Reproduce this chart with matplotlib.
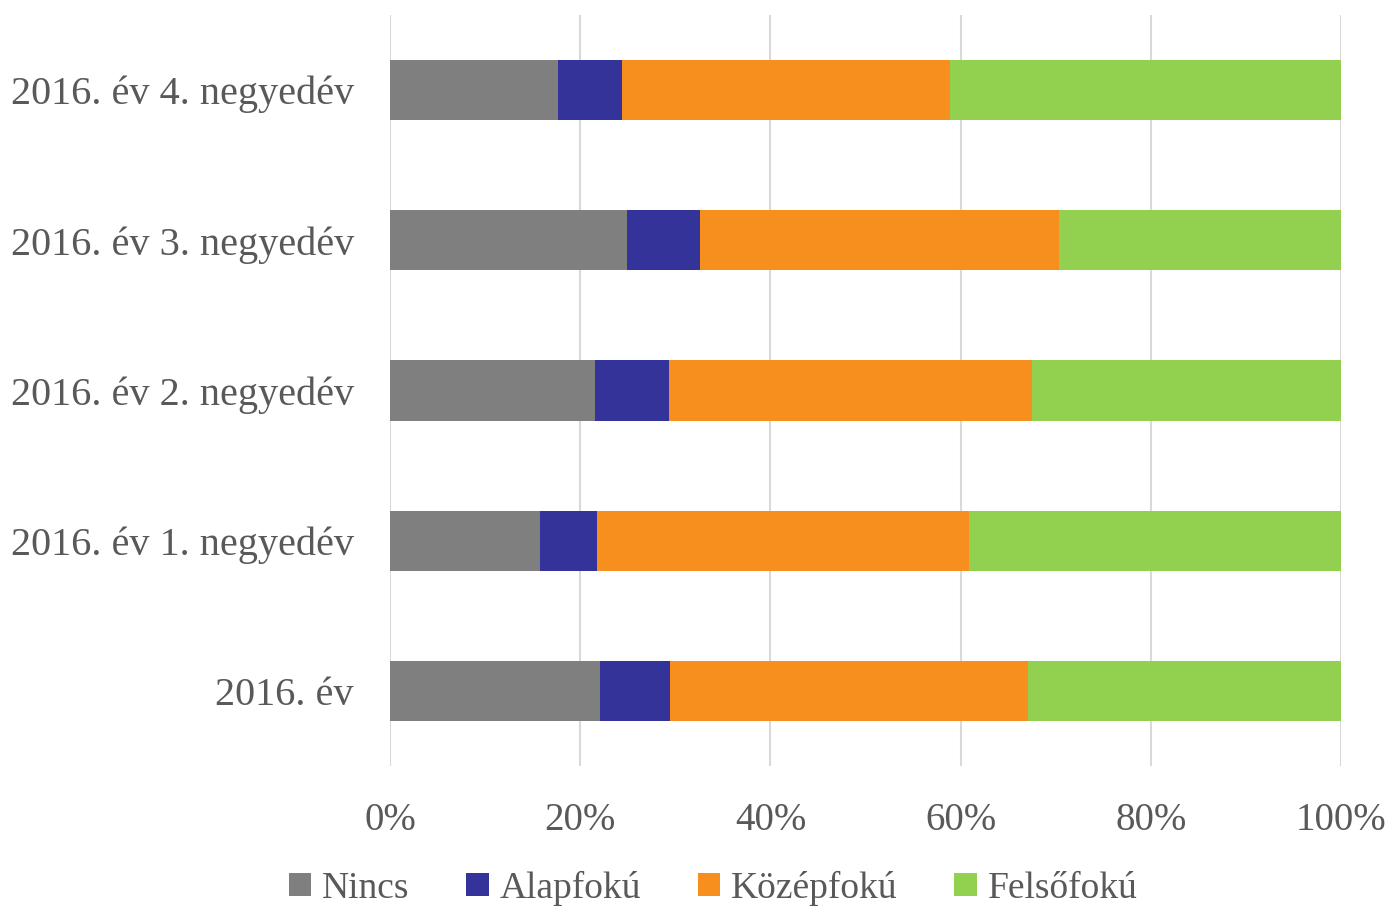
import matplotlib
matplotlib.use("Agg")
import matplotlib.pyplot as plt
from matplotlib.ticker import PercentFormatter

categories = ["2016. év", "2016. év 1. negyedév", "2016. év 2. negyedév",
              "2016. év 3. negyedév", "2016. év 4. negyedév"]
series_names = ["Nincs", "Alapfokú", "Középfokú", "Felsőfokú"]
# shares in percent, bottom category first
nincs = [22.1, 15.8, 21.5, 24.9, 17.7]
alapfoku = [7.3, 6.0, 7.8, 7.7, 6.7]
kozepfoku = [37.7, 39.1, 38.2, 37.7, 34.5]
felsofoku = [32.9, 39.1, 32.5, 29.7, 41.1]
colors = ["#7f7f7f", "#333399", "#f78f1e", "#92d050"]

text_color = "#595959"
plt.rcParams["font.family"] = ["Liberation Serif", "DejaVu Serif"]

fig = plt.figure(figsize=(13.93, 9.09), dpi=100)
ax = fig.add_axes([0.28, 0.1573, 0.6827, 0.8262])

left = [0.0] * len(categories)
for name, vals, c in zip(series_names, [nincs, alapfoku, kozepfoku, felsofoku], colors):
    ax.barh(categories, vals, left=left, height=0.4, color=c, label=name, zorder=3)
    left = [l + v for l, v in zip(left, vals)]

ax.set_xlim(0, 100)
ax.set_ylim(-0.5, len(categories) - 0.5)
ax.set_xticks(range(0, 101, 20))
ax.xaxis.set_major_formatter(PercentFormatter(decimals=0))
ax.grid(axis="x", color="#d9d9d9", linewidth=1.5, zorder=0)
for s in ax.spines.values():
    s.set_visible(False)
ax.tick_params(axis="x", length=0, labelsize=28, colors=text_color, pad=26)
ax.tick_params(axis="y", length=0, labelsize=29, colors=text_color, pad=26)

fig.legend(loc="center", bbox_to_anchor=(0.512, 0.023), ncol=4, frameon=False,
           fontsize=27, labelcolor=text_color, handlelength=0.6, handleheight=0.6,
           handletextpad=0.3, columnspacing=1.5)

fig.savefig("out.png", dpi=100)
